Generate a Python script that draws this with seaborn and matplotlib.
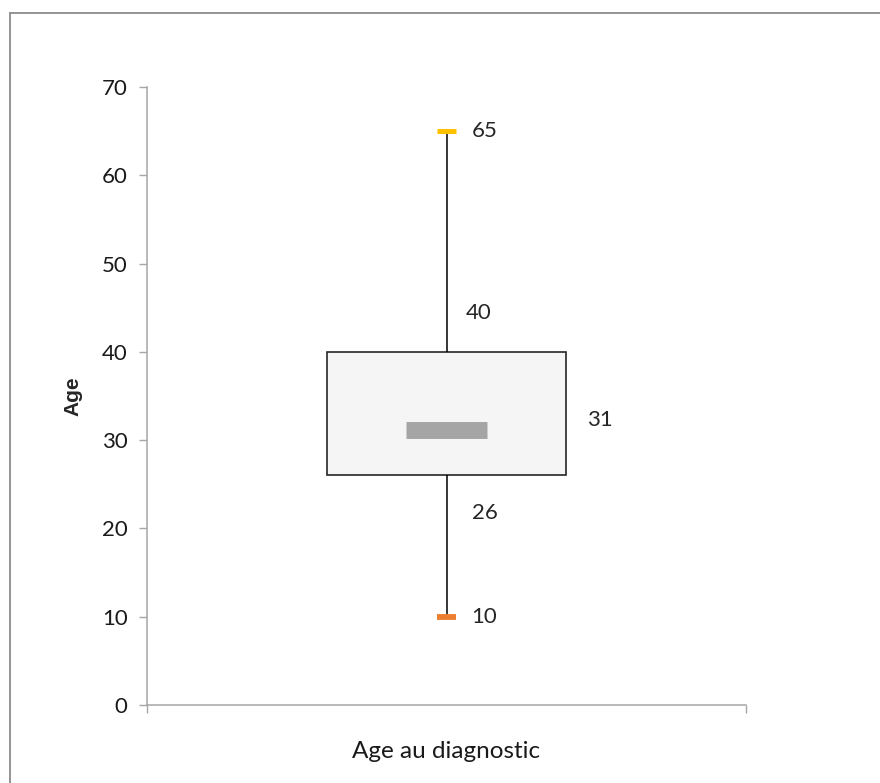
import numpy as np
import pandas as pd
import matplotlib
matplotlib.use("Agg")
import matplotlib.pyplot as plt
from matplotlib.lines import Line2D
import seaborn as sns

# values (min, Q1, median, Q3, max)
category = "Age au diagnostic"
ages = [10, 26, 31, 40, 65]
y_ticks = [0, 10, 20, 30, 40, 50, 60, 70]
stat_labels = ["10", "26", "31", "40", "65"]

df = pd.DataFrame({"groupe": [category] * len(ages), "age": ages})

sns.set_theme(style="white")
plt.rcParams["font.family"] = ["Lato", "DejaVu Sans"]

fig = plt.figure(figsize=(8.8, 7.83), dpi=100)
ax = fig.add_axes([147 / 880, 78 / 783, 599 / 880, 618 / 783])

sns.boxplot(data=df, x="groupe", y="age", ax=ax, whis=(0, 100), width=0.4,
            color="#F5F5F5", linecolor="#262626", linewidth=1.2,
            showcaps=False, showfliers=False,
            medianprops={"visible": False},
            whiskerprops={"color": "black", "linewidth": 1.1})

lo, q1, med, q3, hi = ages
# median shown as a short grey bar, min/max as coloured dashes
ax.hlines(med + 0.1, -0.067, 0.067, color="#A5A5A5", linewidth=12.2, zorder=4)
ax.hlines(lo, -0.016, 0.016, color="#ED7D31", linewidth=4.2, zorder=4)
ax.hlines(hi, -0.016, 0.016, color="#FFC000", linewidth=3.6, zorder=4)

# data labels
fs = 16
ax.text(0.042, lo, stat_labels[0], va="center", ha="left", fontsize=fs)
ax.text(0.042, q1 - 4.3, stat_labels[1], va="center", ha="left", fontsize=fs)
ax.text(0.234, med + 1.3, stat_labels[2], va="center", ha="left", fontsize=fs)
ax.text(0.032, q3 + 4.4, stat_labels[3], va="center", ha="left", fontsize=fs)
ax.text(0.042, hi, stat_labels[4], va="center", ha="left", fontsize=fs)

ax.set_xlim(-0.5, 0.5)
ax.set_ylim(0, 70)
ax.set_yticks(y_ticks)
ax.tick_params(axis="y", labelsize=fs, labelcolor="#1a1a1a", length=6, width=1,
               color="#A6A6A6", direction="out", left=True, pad=8)
ax.set_xticks([-0.5, 0.5])
ax.set_xticklabels(["", ""])
ax.tick_params(axis="x", length=6, width=1, color="#A6A6A6", direction="out",
               bottom=True)
ax.set_xlabel(category, fontsize=17.5, color="#1a1a1a")
ax.xaxis.set_label_coords(0.5, -0.058)
ax.set_ylabel("Age", fontsize=15, fontweight="bold",
              family=["Liberation Sans", "DejaVu Sans"])
ax.yaxis.set_label_coords(-0.108, 0.5)

sns.despine(ax=ax)
for s in ["left", "bottom"]:
    ax.spines[s].set_color("#A6A6A6")
    ax.spines[s].set_linewidth(1.1)

# outer chart-area frame (only top and left edges visible)
fig.add_artist(Line2D([9.5 / 880, 9.5 / 880], [0, 1 - 13 / 783],
                      transform=fig.transFigure, color="#8C8C8C", lw=1.3))
fig.add_artist(Line2D([9.5 / 880, 1], [1 - 13 / 783, 1 - 13 / 783],
                      transform=fig.transFigure, color="#8C8C8C", lw=1.3))

fig.savefig("out.png", dpi=100)
